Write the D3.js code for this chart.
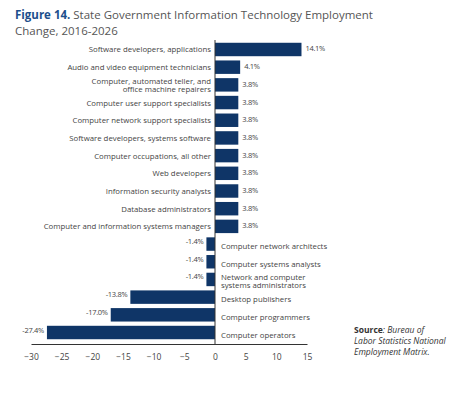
<!DOCTYPE html>
<html>
<head>
<meta charset="utf-8">
<script src="https://cdn.jsdelivr.net/npm/d3@7"></script>
<style>
  body { margin: 0; background: #fff; }
  text { font-family: "Open Sans", "Liberation Sans", sans-serif; }
</style>
</head>
<body>
<svg width="474" height="401"></svg>
<script>
const categories = [
  "Software developers, applications",
  "Audio and video equipment technicians",
  "Computer, automated teller, and|office machine repairers",
  "Computer user support specialists",
  "Computer network support specialists",
  "Software developers, systems software",
  "Computer occupations, all other",
  "Web developers",
  "Information security analysts",
  "Database administrators",
  "Computer and information systems managers",
  "Computer network architects",
  "Computer systems analysts",
  "Network and computer|systems administrators",
  "Desktop publishers",
  "Computer programmers",
  "Computer operators"
];
const values = [14.1, 4.1, 3.8, 3.8, 3.8, 3.8, 3.8, 3.8, 3.8, 3.8, 3.8, -1.4, -1.4, -1.4, -13.8, -17.0, -27.4];
const ticks = [-30, -25, -20, -15, -10, -5, 0, 5, 10, 15];

const svg = d3.select("svg");
const navy = "#0f3567";
const gray = "#444";

// title
const title = svg.append("text").attr("x", 15).attr("y", 19).attr("font-size", 11.5).attr("fill", "#555");
title.append("tspan").attr("font-weight", "bold").attr("fill", "#1d4f8c").text("Figure 14.");
title.append("tspan").text(" State Government Information Technology Employment");
svg.append("text").attr("x", 15).attr("y", 35).attr("font-size", 11.5).attr("fill", "#555")
  .text("Change, 2016-2026");

const x = d3.scaleLinear().domain([-30, 15]).range([31, 307]);
const y = d3.scaleBand().domain(categories).range([41, 341]).paddingInner(0.24).paddingOuter(0.1);

const rows = svg.append("g");
categories.forEach((c, i) => {
  const v = values[i];
  const yc = y(c) + y.bandwidth() / 2;
  rows.append("rect")
    .attr("x", x(Math.min(0, v)))
    .attr("y", y(c))
    .attr("width", Math.abs(x(v) - x(0)))
    .attr("height", y.bandwidth())
    .attr("fill", navy);

  const lines = c.split("|");
  const pos = v >= 0;
  const lab = rows.append("text")
    .attr("font-size", 7.8)
    .attr("fill", gray)
    .attr("text-anchor", pos ? "end" : "start")
    .attr("x", pos ? x(0) - 4 : x(0) + 6);
  lines.forEach((l, k) => {
    lab.append("tspan")
      .attr("x", pos ? x(0) - 4 : x(0) + 6)
      .attr("y", yc + 3 + (k - (lines.length - 1) / 2) * 8 + (pos ? 0 : 2))
      .text(l);
  });

  rows.append("text")
    .attr("font-size", 7.5)
    .attr("fill", gray)
    .attr("text-anchor", pos ? "start" : "end")
    .attr("x", pos ? x(v) + 4 : x(v) - 3)
    .attr("y", yc + (pos ? 2 : 0))
    .attr("letter-spacing", -0.3)
    .text(v.toFixed(1) + "%");
});

// zero line
svg.append("line").attr("x1", x(0)).attr("x2", x(0)).attr("y1", 40).attr("y2", 344)
  .attr("stroke", "#333").attr("stroke-width", 1);

// x axis
const axis = svg.append("g").attr("transform", "translate(0,344)")
  .call(d3.axisBottom(x).tickValues(ticks).tickSize(0).tickPadding(10));
axis.select(".domain").attr("stroke", "#333");
axis.selectAll("text").attr("font-size", 8.5).attr("fill", gray)
  .style("font-family", "'Open Sans', sans-serif");

// source
const src = ["Bureau of", "Labor Statistics National", "Employment Matrix."];
const s = svg.append("text").attr("font-size", 8.5).attr("fill", "#333");
s.append("tspan").attr("x", 354).attr("y", 333).attr("font-weight", "bold").text("Source");
s.append("tspan").attr("font-style", "italic").text(": " + src[0]);
src.slice(1).forEach((t, k) => {
  s.append("tspan").attr("x", 354).attr("y", 333 + 11 * (k + 1)).attr("font-style", "italic").text(t);
});
</script>
</body>
</html>
